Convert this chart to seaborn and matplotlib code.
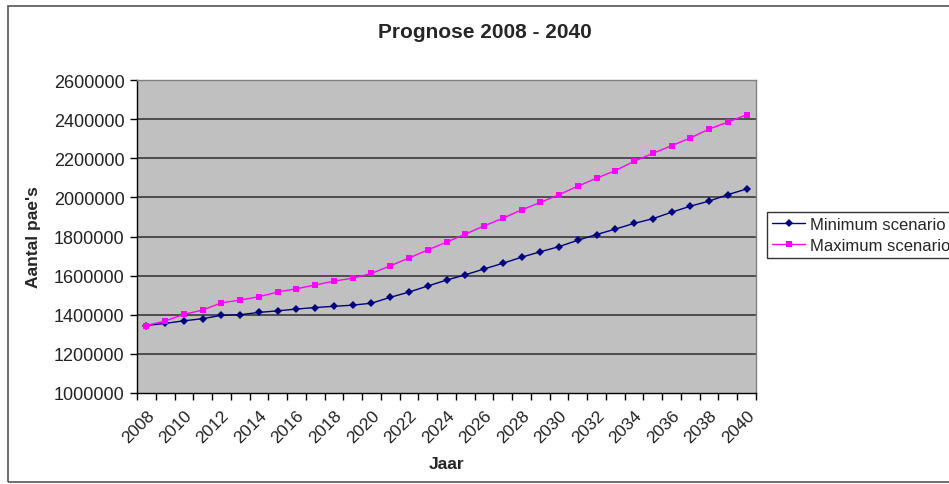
import numpy as np
import pandas as pd
import seaborn as sns
import matplotlib.pyplot as plt
from matplotlib.patches import Rectangle

# Data
years = list(range(2008, 2041))
minimum = [1345000, 1356000, 1369000, 1380000, 1397000, 1400000, 1412000, 1420000,
           1429000, 1437000, 1443000, 1449000, 1459000, 1489000, 1516000, 1547000,
           1577000, 1604000, 1634000, 1663000, 1694000, 1722000, 1748000, 1781000,
           1810000, 1838000, 1867000, 1891000, 1924000, 1955000, 1981000, 2014000,
           2043000]
maximum = [1345000, 1368000, 1402000, 1424000, 1461000, 1475000, 1492000, 1516000,
           1533000, 1552000, 1572000, 1587000, 1611000, 1650000, 1690000, 1731000,
           1771000, 1812000, 1854000, 1893000, 1936000, 1974000, 2014000, 2057000,
           2098000, 2137000, 2184000, 2225000, 2264000, 2304000, 2349000, 2385000,
           2422000]
y_ticks = [1000000, 1200000, 1400000, 1600000, 1800000, 2000000, 2200000, 2400000, 2600000]

df = pd.DataFrame({
    'Jaar': years * 2,
    'Waarde': minimum + maximum,
    'Scenario': ['Minimum scenario'] * len(years) + ['Maximum scenario'] * len(years),
})

sns.set_style('white')
plt.rcParams['font.family'] = ['Liberation Sans', 'DejaVu Sans']

fig = plt.figure(figsize=(9.49, 4.85), dpi=100)
ax = fig.add_axes([137 / 949, 1 - 394 / 485, (756 - 137) / 949, (394 - 81) / 485])
ax.set_facecolor('#C0C0C0')

# outer chart border
fig.patches.append(Rectangle((8 / 949, 2 / 485), 1.1, 476 / 485, transform=fig.transFigure,
                             fill=False, edgecolor='#555555', linewidth=1.2))

sns.lineplot(data=df, x='Jaar', y='Waarde', hue='Scenario', style='Scenario',
             palette={'Minimum scenario': '#000080', 'Maximum scenario': '#FF00FF'},
             markers={'Minimum scenario': 'D', 'Maximum scenario': 's'},
             dashes=False, linewidth=1.0, markersize=4.5, markeredgewidth=0,
             ax=ax, legend=True)

ax.set_xlim(2007.5, 2040.5)
ax.set_ylim(1000000, 2600000)
ax.set_yticks(y_ticks)
ax.set_yticklabels([str(v) for v in y_ticks], fontsize=13, color='#222222')
for v in y_ticks[1:-1]:
    ax.axhline(v, color='#3a3a3a', linewidth=1.2, zorder=1)

ax.set_xticks(years[::2])
ax.set_xticklabels([str(y) for y in years[::2]], rotation=45, ha='right', va='top',
                   rotation_mode='anchor', fontsize=12.5, color='#222222')
ax.set_xticks(np.arange(2007.5, 2041), minor=True)
ax.tick_params(axis='x', which='major', length=0, pad=10)
ax.tick_params(axis='x', which='minor', length=5, width=1, color='black', direction='out', bottom=True)
ax.tick_params(axis='y', length=5, width=1, color='black', direction='out', left=True, pad=4)

for side in ['top', 'right']:
    ax.spines[side].set_color('#808080')
    ax.spines[side].set_linewidth(1.0)
for side in ['left', 'bottom']:
    ax.spines[side].set_color('black')
    ax.spines[side].set_linewidth(1.0)

ax.set_xlabel('Jaar', fontsize=12.5, fontweight='bold')
ax.set_ylabel("Aantal pae's", fontsize=12.5, fontweight='bold')
ax.xaxis.set_label_coords(0.5, (394 - 457) / 313, transform=ax.transAxes)
ax.yaxis.set_label_coords((41 - 137) / 619, 0.5, transform=ax.transAxes)
fig.text(485 / 949, 1 - 32 / 485, 'Prognose 2008 - 2040', ha='center', va='center',
         fontsize=15, fontweight='bold')

handles, labels = ax.get_legend_handles_labels()
ax.get_legend().remove()
leg = fig.legend(handles, labels, loc='upper left', bbox_to_anchor=(767 / 949, 1 - 213 / 485),
                 fontsize=12, frameon=True, fancybox=False, edgecolor='black',
                 borderpad=0.3, handlelength=2.0, handletextpad=0.3, labelspacing=0.35,
                 borderaxespad=0)
leg.get_frame().set_linewidth(1.0)

plt.savefig('out.png', dpi=100)
